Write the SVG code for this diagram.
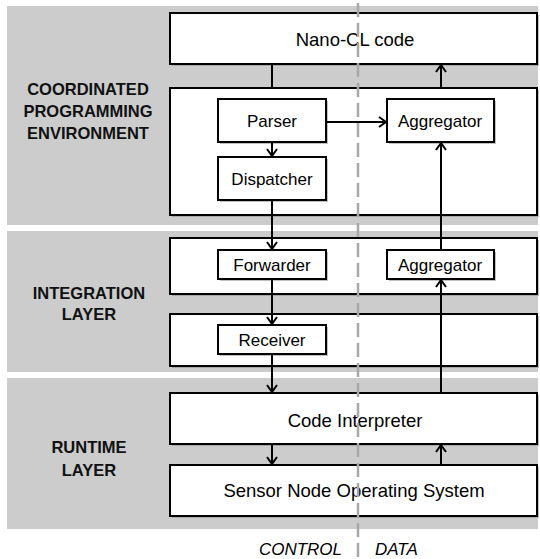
<svg xmlns="http://www.w3.org/2000/svg" width="540" height="559" viewBox="0 0 540 559">
<defs>
<style>
.band{fill:#cccccc}
.box{fill:#ffffff;stroke:#000;stroke-width:2}
.shadow{fill:#8c8c8c;opacity:0.55}
.t{font-family:"Liberation Sans",Arial,sans-serif;font-size:17px;fill:#000;text-anchor:middle}
.tb{font-family:"Liberation Sans",Arial,sans-serif;font-size:18.5px;fill:#000;text-anchor:middle}
.lbl{font-family:"Liberation Sans",Arial,sans-serif;font-size:16.5px;font-weight:bold;fill:#111;text-anchor:middle}
.it{font-family:"Liberation Sans",Arial,sans-serif;font-size:17px;font-style:italic;fill:#000}
.c{stroke:#000;stroke-width:2;fill:none}
.ca{stroke:#000;stroke-width:2;fill:none;marker-end:url(#ah)}
.dash{stroke:#a8a8a8;stroke-width:2.5;stroke-dasharray:14 6;fill:none}
</style>
<marker id="ah" viewBox="0 0 10 12" refX="9" refY="6" markerWidth="10" markerHeight="12" markerUnits="userSpaceOnUse" orient="auto">
<path d="M2,1 L9,6 L2,11" fill="none" stroke="#000" stroke-width="2"/>
</marker>
</defs>

<g id="bands">
<rect class="band" x="7" y="6" width="531" height="219"/>
<rect class="band" x="7" y="231" width="531" height="141"/>
<rect class="band" x="7" y="378" width="531" height="151"/>
</g>

<g id="layer-labels">
<text class="lbl" x="88" y="95">COORDINATED</text>
<text class="lbl" x="88" y="117">PROGRAMMING</text>
<text class="lbl" x="88" y="139">ENVIRONMENT</text>
<text class="lbl" x="89" y="299">INTEGRATION</text>
<text class="lbl" x="89" y="320">LAYER</text>
<text class="lbl" x="89" y="453">RUNTIME</text>
<text class="lbl" x="89" y="476">LAYER</text>
</g>

<g id="nano-cl">
<rect class="shadow" x="172" y="15" width="367" height="51"/>
<rect class="box" x="170" y="13" width="367" height="51"/>
<text class="tb" x="355" y="46">Nano-CL code</text>
</g>
<g id="cpe-box">
<rect class="shadow" x="172" y="90" width="367" height="127"/>
<rect class="box" x="170" y="88" width="367" height="127"/>
</g>
<g id="parser">
<rect class="shadow" x="220" y="101" width="108" height="43"/>
<rect class="box" x="218" y="99" width="108" height="43"/>
<text class="t" x="272" y="127">Parser</text>
</g>
<g id="dispatcher">
<rect class="shadow" x="220" y="159" width="108" height="43"/>
<rect class="box" x="218" y="157" width="108" height="43"/>
<text class="t" x="272" y="185">Dispatcher</text>
</g>
<g id="aggregator-top">
<rect class="shadow" x="389" y="101" width="107" height="43"/>
<rect class="box" x="387" y="99" width="107" height="43"/>
<text class="t" x="440" y="127">Aggregator</text>
</g>
<g id="integration-top">
<rect class="shadow" x="172" y="240" width="367" height="56"/>
<rect class="box" x="170" y="238" width="367" height="56"/>
</g>
<g id="forwarder">
<rect class="shadow" x="220" y="252" width="108" height="29"/>
<rect class="box" x="218" y="250" width="108" height="29"/>
<text class="t" x="272" y="271">Forwarder</text>
</g>
<g id="aggregator-mid">
<rect class="shadow" x="389" y="252" width="107" height="29"/>
<rect class="box" x="387" y="250" width="107" height="29"/>
<text class="t" x="440" y="271">Aggregator</text>
</g>
<g id="integration-bottom">
<rect class="shadow" x="172" y="316" width="367" height="52"/>
<rect class="box" x="170" y="314" width="367" height="52"/>
</g>
<g id="receiver">
<rect class="shadow" x="220" y="327" width="108" height="29"/>
<rect class="box" x="218" y="325" width="108" height="29"/>
<text class="t" x="272" y="346">Receiver</text>
</g>
<g id="code-interpreter">
<rect class="shadow" x="172" y="395" width="367" height="51"/>
<rect class="box" x="170" y="393" width="367" height="51"/>
<text class="tb" x="355" y="427">Code Interpreter</text>
</g>
<g id="sensor-os">
<rect class="shadow" x="172" y="467" width="367" height="51"/>
<rect class="box" x="170" y="465" width="367" height="51"/>
<text class="tb" x="354" y="497">Sensor Node Operating System</text>
</g>

<g id="connectors">
<line class="c" x1="272" y1="64" x2="272" y2="88"/>
<line class="ca" x1="272" y1="142" x2="272" y2="156"/>
<line class="ca" x1="272" y1="200" x2="272" y2="249"/>
<line class="ca" x1="272" y1="279" x2="272" y2="324"/>
<line class="ca" x1="272" y1="354" x2="272" y2="392"/>
<line class="ca" x1="272" y1="444" x2="272" y2="464"/>
<line class="ca" x1="326" y1="122" x2="386" y2="122"/>
<line class="ca" x1="441" y1="465" x2="441" y2="445"/>
<line class="ca" x1="441" y1="393" x2="441" y2="280"/>
<line class="ca" x1="441" y1="250" x2="441" y2="143"/>
<line class="ca" x1="441" y1="88" x2="441" y2="65"/>
</g>

<g id="divider">
<line class="dash" x1="358" y1="3" x2="358" y2="559"/>
<text class="it" x="342" y="555" text-anchor="end">CONTROL</text>
<text class="it" x="375" y="555">DATA</text>
</g>
</svg>
